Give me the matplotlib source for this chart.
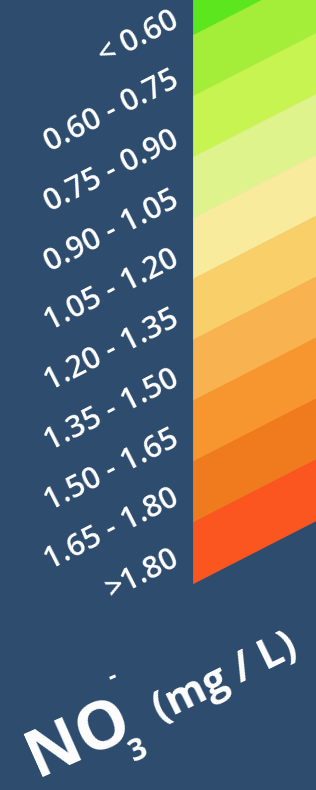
"""Slanted NO3- legend strip on a dark blue panel."""
import numpy as np
import matplotlib.pyplot as plt

labels = ["< 0.60", "0.60 - 0.75", "0.75 - 0.90", "0.90 - 1.05", "1.05 - 1.20",
          "1.20 - 1.35", "1.35 - 1.50", "1.50 - 1.65", "1.65 - 1.80", ">1.80"]
colors = ["#5ce61e", "#a4ee3a", "#c8f452", "#def38c", "#f8eb9c",
          "#f9cf6a", "#f8b250", "#f7962e", "#f07a1e", "#fb5520"]

bg = "#2d4c6e"
W, H = 316, 790

fig = plt.figure(figsize=(W / 100, H / 100), dpi=100, facecolor=bg)
ax = fig.add_axes([0, 0, 1, 1])
ax.set_xlim(0, W)
ax.set_ylim(H, 0)
ax.set_facecolor(bg)
ax.axis("off")

# colour strip, sheared so each band rises to the right
bar_x0, bar_x1 = 193, W + 2
bar_bottom = 583
band_h = 60.9
slope = 0.512
n = len(colors)
xs = np.array([bar_x0, bar_x1])
for i, c in enumerate(colors):
    top = bar_bottom - (n - i) * band_h
    bot = top + band_h
    ax.fill_between(xs, top - slope * (xs - bar_x0), bot - slope * (xs - bar_x0),
                    facecolor=c, edgecolor=c, lw=0.6)

# class labels
lab_y0, lab_step = 19, 59.7
for i, t in enumerate(labels):
    ax.text(177, lab_y0 + i * lab_step, t, color="white", fontsize=22,
            family="Open Sans", weight="semibold", rotation=27,
            rotation_mode="anchor", ha="right", va="center")

# unit title
kw = dict(color="white", family="Open Sans", weight="bold",
          rotation_mode="anchor", ha="left", va="baseline")
ax.text(37, 777, "NO", fontsize=48, rotation=24, **kw)
ax.text(134, 762, "3", fontsize=22, rotation=24, **kw)
ax.text(111, 685, "-", fontsize=18, rotation=24, **kw)
ax.text(161, 722, "(mg / L)", fontsize=30, rotation=26, **kw)

fig.savefig("out.png", dpi=100, facecolor=bg)
